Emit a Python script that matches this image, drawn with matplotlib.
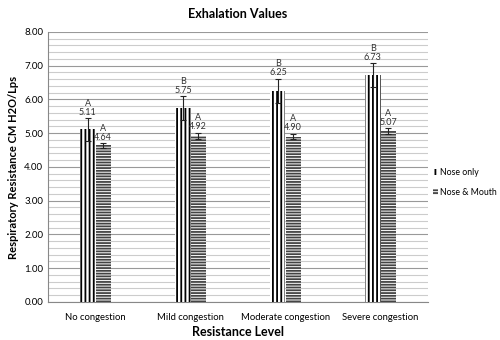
import numpy as np
import matplotlib
matplotlib.use('Agg')
import matplotlib.pyplot as plt
from matplotlib.ticker import MultipleLocator

plt.rcParams['font.family'] = ['Lato', 'DejaVu Sans']
plt.rcParams['hatch.linewidth'] = 1.3

categories = ['No congestion', 'Mild congestion', 'Moderate congestion', 'Severe congestion']
nose_only = [5.11, 5.75, 6.25, 6.73]
nose_only_err = [0.33, 0.35, 0.36, 0.35]
nose_only_grp = ['A', 'B', 'B', 'B']
nose_mouth = [4.64, 4.92, 4.90, 5.07]
nose_mouth_err = [0.07, 0.09, 0.08, 0.08]
nose_mouth_grp = ['A', 'A', 'A', 'A']

fig = plt.figure(figsize=(5, 3.4), dpi=100)
ax = fig.add_axes([0.096, 0.112, 0.760, 0.794])

x = np.arange(len(categories))
w = 0.16

b1 = ax.bar(x - w / 2, nose_only, w, color='white', edgecolor='black', linewidth=0,
            hatch='||||', label='Nose only', zorder=3)
b2 = ax.bar(x + w / 2, nose_mouth, w, color='white', edgecolor='#444444', linewidth=0,
            hatch='------', label='Nose & Mouth', zorder=3)
ax.errorbar(x - w / 2, nose_only, yerr=nose_only_err, fmt='none', ecolor='#222222',
            elinewidth=0.8, capsize=2, capthick=0.8, zorder=4)
ax.errorbar(x + w / 2, nose_mouth, yerr=nose_mouth_err, fmt='none', ecolor='#222222',
            elinewidth=0.8, capsize=2, capthick=0.8, zorder=4)

for xi, v, e, g in zip(x - w / 2, nose_only, nose_only_err, nose_only_grp):
    ax.annotate(f'{g}\n{v:.2f}', (xi, v + e), xytext=(0, 1), textcoords='offset points',
                ha='center', va='bottom', fontsize=6.5, color='#333333', linespacing=1.0)
for xi, v, e, g in zip(x + w / 2, nose_mouth, nose_mouth_err, nose_mouth_grp):
    ax.annotate(f'{g}\n{v:.2f}', (xi, v + e), xytext=(0, 1), textcoords='offset points',
                ha='center', va='bottom', fontsize=6.5, color='#333333', linespacing=1.0)

ax.set_ylim(0, 8)
ax.set_xlim(-0.5, 3.5)
ax.yaxis.set_major_locator(MultipleLocator(1))
ax.yaxis.set_minor_locator(MultipleLocator(0.2))
ax.yaxis.set_major_formatter('{x:.2f}')
ax.grid(axis='y', which='major', color='#999999', linewidth=0.8, zorder=0)
ax.grid(axis='y', which='minor', color='#cccccc', linewidth=0.8, zorder=0)
ax.set_axisbelow(True)
ax.set_xticks(x)
ax.set_xticklabels(categories, fontsize=6.8)
ax.tick_params(axis='y', labelsize=7, length=0, which='both')
ax.tick_params(axis='x', length=0, pad=8)
for s in ['top', 'right']:
    ax.spines[s].set_visible(False)
ax.spines['left'].set_color('#888888')
ax.spines['bottom'].set_color('#888888')

ax.set_title('Exhalation Values', fontsize=9, fontweight='bold', pad=10)
ax.set_xlabel('Resistance Level', fontsize=9, fontweight='bold', labelpad=3)
ax.set_ylabel('Respiratory Resistance CM H2O/Lps', fontsize=8, fontweight='bold', labelpad=4)

fig.legend(handles=[b1, b2], loc='center left', bbox_to_anchor=(0.865, 0.463), frameon=False,
           fontsize=6.3, handlelength=0.6, handleheight=0.6, handletextpad=0.3,
           labelspacing=1.3, borderaxespad=0, borderpad=0)

fig.savefig('out.png', dpi=100)
